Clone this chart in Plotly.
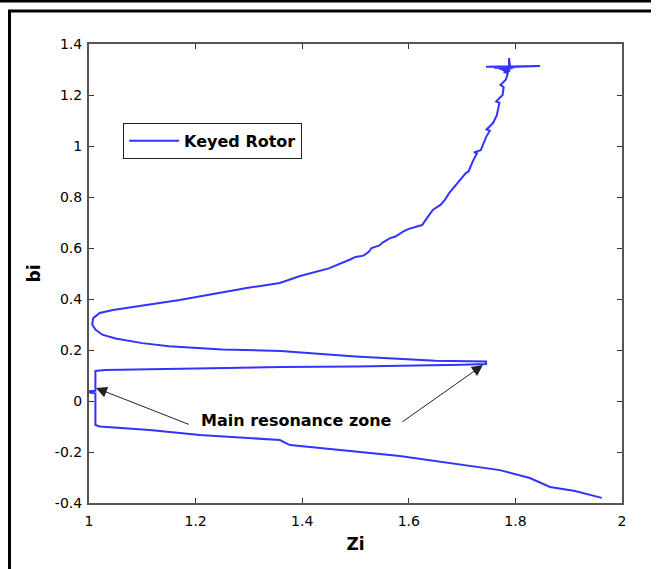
import plotly.graph_objects as go

# Trace of the Keyed Rotor curve (Zi, bi)
zi = [1.962, 1.94, 1.912, 1.865, 1.827, 1.771, 1.677, 1.583, 1.49, 1.377, 1.358,
      1.302, 1.208, 1.114, 1.02, 1.012,
      1.012, 1.012, 1.0, 1.0, 1.012, 1.012,
      1.03, 1.2, 1.36, 1.5, 1.58, 1.6, 1.7, 1.745,
      1.745, 1.65, 1.58, 1.5, 1.36, 1.3, 1.25, 1.15, 1.1, 1.05, 1.025, 1.012,
      1.006, 1.008, 1.02, 1.045,
      1.17, 1.296, 1.358, 1.396, 1.45, 1.49, 1.50, 1.515, 1.525, 1.53, 1.545, 1.55, 1.565,
      1.575, 1.585, 1.59, 1.60, 1.61, 1.625, 1.635,
      1.645, 1.66, 1.668, 1.676, 1.69, 1.70, 1.707, 1.712, 1.72, 1.728, 1.722, 1.735,
      1.745, 1.752, 1.746, 1.758, 1.765, 1.77, 1.764, 1.776, 1.778, 1.772, 1.782,
      1.786, 1.778, 1.79, 1.775, 1.79, 1.77, 1.795, 1.76, 1.8,
      1.745, 1.846, 1.79, 1.788, 1.788, 1.782, 1.79]
bi = [-0.38, -0.369, -0.353, -0.337, -0.302, -0.271, -0.243, -0.216, -0.196, -0.173, -0.153,
      -0.145, -0.133, -0.114, -0.1, -0.094,
      0.02, 0.03, 0.033, 0.038, 0.04, 0.118,
      0.122, 0.128, 0.133, 0.135, 0.137, 0.14, 0.142, 0.145,
      0.155, 0.158, 0.165, 0.175, 0.196, 0.198, 0.202, 0.215, 0.227, 0.245, 0.26, 0.28,
      0.3, 0.325, 0.345, 0.357,
      0.396, 0.443, 0.463, 0.49, 0.52, 0.555, 0.565, 0.57, 0.585, 0.6, 0.61, 0.62, 0.639,
      0.645, 0.66, 0.665, 0.675, 0.682, 0.69, 0.72,
      0.749, 0.77, 0.79, 0.816, 0.85, 0.878, 0.894, 0.9, 0.94, 0.972, 0.975, 0.984,
      1.035, 1.06, 1.065, 1.09, 1.12, 1.169, 1.175, 1.2, 1.231, 1.24, 1.26,
      1.286, 1.29, 1.295, 1.298, 1.3, 1.302, 1.305, 1.307, 1.309,
      1.311, 1.314, 1.31, 1.345, 1.3, 1.29, 1.3]

x_ticks = [1, 1.2, 1.4, 1.6, 1.8, 2]
x_labels = ["1", "1.2", "1.4", "1.6", "1.8", "2"]
y_ticks = [-0.4, -0.2, 0, 0.2, 0.4, 0.6, 0.8, 1, 1.2, 1.4]
y_labels = ["-0.4", "-0.2", "0", "0.2", "0.4", "0.6", "0.8", "1", "1.2", "1.4"]

series_name = "Keyed Rotor"
note_text = "Main resonance zone"

FONT = "DejaVu Sans"

fig = go.Figure()
fig.add_trace(go.Scatter(x=zi, y=bi, mode="lines", name="<b>" + series_name + "</b>",
                         line=dict(color="#3333ff", width=2),
                         showlegend=True))

axis_common = dict(showgrid=False, zeroline=False, showline=True, mirror="ticks",
                   linecolor="#555555", linewidth=2, ticks="inside", ticklen=5,
                   tickcolor="#333333", tickwidth=1,
                   tickfont=dict(family=FONT, size=14, color="black"))

fig.update_layout(
    width=659, height=569,
    margin=dict(l=89, r=37, t=44, b=66),
    paper_bgcolor="white", plot_bgcolor="white",
    font=dict(family=FONT, color="black"),
    xaxis=dict(range=[1, 2], tickvals=x_ticks, ticktext=x_labels, ticklabelstandoff=4,
               title=dict(text="<b>Zi</b>", font=dict(family=FONT, size=17), standoff=10),
               **axis_common),
    yaxis=dict(range=[-0.4, 1.4], tickvals=y_ticks, ticktext=y_labels, ticklabelstandoff=2,
               title=dict(text="<b>bi</b>", font=dict(family=FONT, size=17), standoff=10),
               **axis_common),
    legend=dict(x=0.064, y=0.828, xanchor="left", yanchor="top",
                bordercolor="#222222", borderwidth=1, bgcolor="white",
                font=dict(family=FONT, size=16, color="black"),
                itemwidth=50),
)

# annotation text
fig.add_annotation(x=1.39, y=-0.078, xref="x", yref="y", text="<b>" + note_text + "</b>",
                   showarrow=False, font=dict(family=FONT, size=16, color="black"))
# arrows
for (tx, ty, hx, hy) in [(1.19, -0.094, 1.013, 0.051), (1.585, -0.086, 1.739, 0.141)]:
    fig.add_annotation(x=hx, y=hy, ax=tx, ay=ty, xref="x", yref="y", axref="x", ayref="y",
                       text="", showarrow=True, arrowhead=2, arrowsize=2.2, arrowwidth=1,
                       arrowcolor="#222222")

# outer frame lines (page decoration)
def px(xp):
    return (xp - 89) / 533.0

def py(yp):
    return (503 - yp) / 459.0

fig.add_shape(type="line", xref="paper", yref="paper", x0=px(0), x1=px(651), y0=py(1), y1=py(1),
              line=dict(color="black", width=3))
fig.add_shape(type="line", xref="paper", yref="paper", x0=px(8), x1=px(651), y0=py(11), y1=py(11),
              line=dict(color="black", width=3))
fig.add_shape(type="line", xref="paper", yref="paper", x0=px(9.5), x1=px(9.5), y0=py(10), y1=py(572),
              line=dict(color="black", width=3))

fig.write_html("out.html")
